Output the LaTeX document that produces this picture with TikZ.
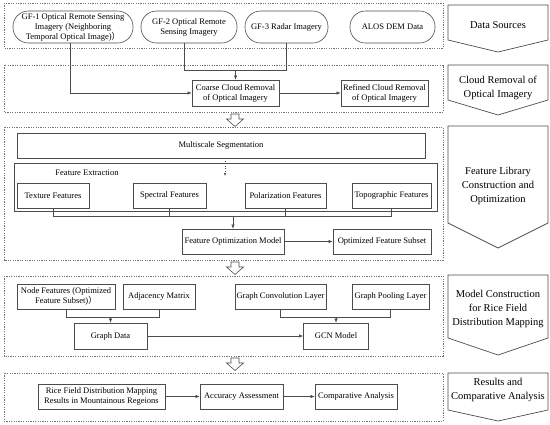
\documentclass[tikz,border=0pt]{standalone}
\usepackage{fontspec}
\setmainfont{Liberation Serif}
\newfontfamily\cjkfont{Noto Sans CJK SC}
\usetikzlibrary{arrows.meta}
\begin{document}
\begin{tikzpicture}[x=1pt,y=-1pt,
  ln/.style={draw=black!70, line width=0.6pt},
  bx/.style={ln, rectangle, align=center, inner sep=1pt, font=\fontsize{8.5}{10}\selectfont, minimum height=25pt},
  stad/.style={bx, rounded corners=15.5pt, minimum height=32pt},
  grp/.style={draw=black!55, line width=0.6pt, dash pattern=on 1.2pt off 1.2pt},
  conn/.style={ln, line width=0.5pt},
  arr/.style={conn, -{Latex[length=4pt,width=3.2pt]}},
  chev/.style={ln, line width=0.7pt},
  chevtxt/.style={align=center, font=\fontsize{10.5}{14}\selectfont},
  hollow/.style={draw=black!70, line width=0.6pt, fill=white}
]
\useasboundingbox (0,0) rectangle (550,424);

% group boxes
\draw[grp] (4,3) rectangle (443,48);
\draw[grp] (4,65) rectangle (443,112);
\draw[grp] (4,127) rectangle (443,260);
\draw[grp] (4,276) rectangle (443,356);
\draw[grp] (4,373) rectangle (443,421);

% hollow arrows between groups
\foreach \t in {114,262,358}{
  \draw[hollow] (231,\t) -- (239,\t) -- (239,\t+5) -- (243.5,\t+5) -- (235,\t+12.5) -- (226.5,\t+5) -- (231,\t+5) -- cycle;
}

% chevrons
\draw[chev] (448,5) -- (548,5) -- (548,40) -- (498,52) -- (448,40) -- cycle;
\node[chevtxt] (c1) at (498,25) {Data Sources};
\draw[chev] (448,65) -- (548,65) -- (548,100) -- (498,115) -- (448,100) -- cycle;
\node[chevtxt] (c2) at (498,87.5) {Cloud Removal of\\Optical Imagery};
\draw[chev] (448,126) -- (548,126) -- (548,223) -- (498,248) -- (448,223) -- cycle;
\node[chevtxt] (c3) at (498,186) {Feature Library\\Construction and\\Optimization};
\draw[chev] (448,275) -- (548,275) -- (548,338) -- (498,355) -- (448,338) -- cycle;
\node[chevtxt] (c4) at (498,308.5) {Model Construction\\for Rice Field\\Distribution Mapping};
\draw[chev] (448,373) -- (548,373) -- (548,410) -- (498,421) -- (448,410) -- cycle;
\node[chevtxt] (c5) at (498,390) {Results and\\Comparative Analysis};

% Data sources
\node[stad, minimum width=120pt] (gf1) at (73,27) {GF-1 Optical Remote Sensing\\Imagery (Neighboring\\Temporal Optical Image){\cjkfont ）}};
\node[stad, minimum width=96pt] (gf2) at (189,27) {GF-2 Optical Remote\\Sensing Imagery};
\node[stad, minimum width=83pt] (gf3) at (286.5,27) {GF-3 Radar Imagery};
\node[stad, minimum width=85pt] (alos) at (392.5,27) {ALOS DEM Data};

% Cloud removal
\node[bx, minimum width=87pt, minimum height=26pt] (coarse) at (235.5,93) {Coarse Cloud Removal\\of Optical Imagery};
\node[bx, minimum width=87pt, minimum height=26pt] (refined) at (384.5,93) {Refined Cloud Removal\\of Optical Imagery};

\draw[arr] ([xshift=-3pt]gf1.south) |- (coarse.west);
\coordinate (j1) at ([xshift=-5pt]gf2.south |- 0,70);
\draw[conn] ([xshift=-5pt]gf2.south) -- (j1) -- (gf3.south |- j1) -- (gf3.south);
\draw[arr] (coarse.north |- j1) -- (coarse.north);
\draw[arr] (coarse.east) -- (refined.west);

% Feature library
\node[bx, minimum width=408pt] (seg) at (221,145.5) {Multiscale Segmentation};
\node[ln, rectangle, minimum width=423pt, minimum height=48pt, inner sep=0pt] (fe) at (225.5,187) {};
\node[font=\fontsize{8.5}{10}\selectfont] (felab) at (87,173) {Feature Extraction};
\coordinate (segend) at (225,176);
\draw[conn, dotted, -{Latex[length=3pt,width=2.5pt]}] (seg.south -| segend) -- (segend);

\node[bx, minimum width=72pt] (tex) at (53,195.5) {Texture Features};
\node[bx, minimum width=73pt] (spe) at (169.5,195.5) {Spectral Features};
\node[bx, minimum width=81pt] (pol) at (285.5,195.5) {Polarization Features};
\node[bx, minimum width=79pt] (top) at (391.5,195.5) {Topographic Features};

\node[bx, minimum width=102pt] (fom) at (233,241.5) {Feature Optimization Model};
\node[bx, minimum width=98pt] (ofs) at (382,241.5) {Optimized Feature Subset};

\coordinate (bus1) at (0,216);
\draw[conn] (tex.south) -- (tex.south |- bus1) -- (top.south |- bus1) -- (top.south);
\draw[conn] (spe.south) -- (spe.south |- bus1);
\draw[conn] (pol.south) -- (pol.south |- bus1);
\draw[arr] (fom.north |- bus1) -- (fom.north);
\draw[arr] (fom.east) -- (ofs.west);

% Model construction
\node[bx, minimum width=98pt] (nf) at (66,296.5) {Node Features (Optimized\\Feature Subset){\cjkfont ）}};
\node[bx, minimum width=72pt] (adj) at (159,296.5) {Adjacency Matrix};
\node[bx, minimum width=91pt] (gcl) at (280.5,296.5) {Graph Convolution Layer};
\node[bx, minimum width=77pt] (gpl) at (390.5,296.5) {Graph Pooling Layer};
\node[bx, minimum width=73pt, minimum height=26pt] (gd) at (110.5,336) {Graph Data};
\node[bx, minimum width=65pt, minimum height=26pt] (gcn) at (336,336) {GCN Model};

\coordinate (bus2) at (0,317);
\draw[conn] (nf.south) -- (nf.south |- bus2) -- (adj.south |- bus2) -- (adj.south);
\draw[arr] (gd.north |- bus2) -- (gd.north);
\draw[conn] (gcl.south) -- (gcl.south |- bus2) -- (gpl.south |- bus2) -- (gpl.south);
\draw[arr] (gcn.north |- bus2) -- (gcn.north);
\draw[arr] (gd.east) -- (gcn.west);

% Results
\node[bx, minimum width=127pt] (rice) at (101.5,396.5) {Rice Field Distribution Mapping\\Results in Mountainous Regeions};
\node[bx, minimum width=83pt] (acc) at (241.5,396.5) {Accuracy Assessment};
\node[bx, minimum width=82pt] (cmp) at (356,396.5) {Comparative Analysis};
\draw[arr] (rice.east) -- (acc.west);
\draw[arr] (acc.east) -- (cmp.west);
\end{tikzpicture}
\end{document}
